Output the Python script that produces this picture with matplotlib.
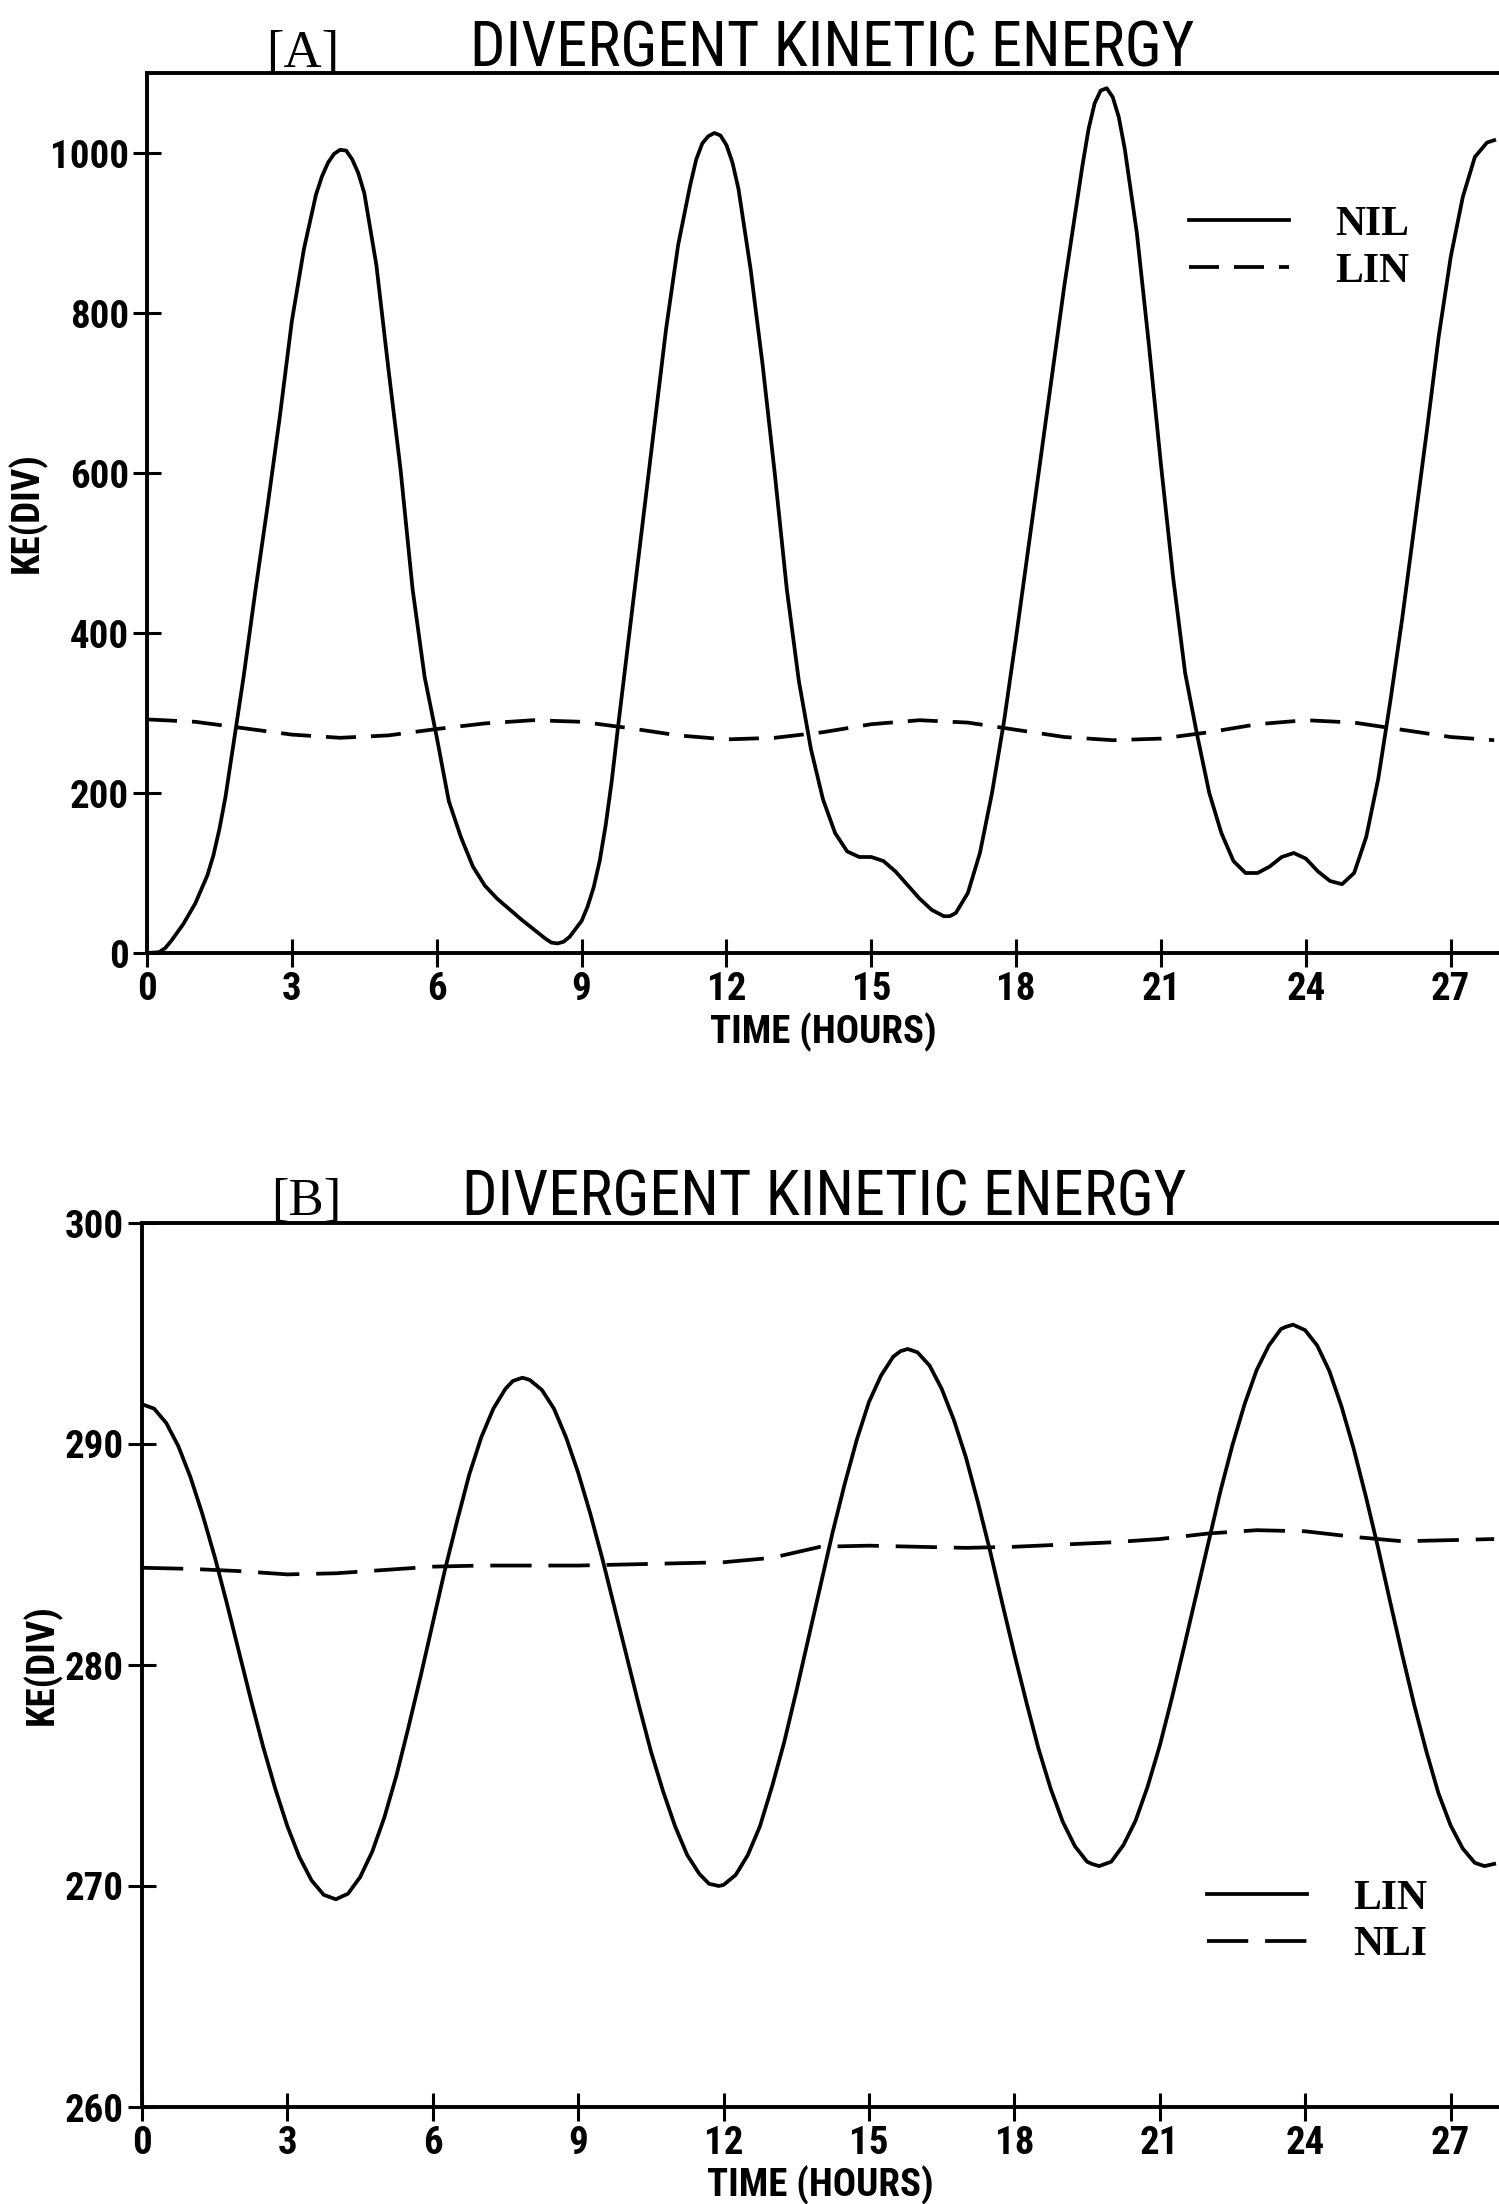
import matplotlib
matplotlib.use("Agg")
import matplotlib.pyplot as plt
from matplotlib import font_manager

# ---- panel A: divergent KE, nonlinear (NIL) vs linear (LIN) ----
A_NIL_T = [0.0, 0.25, 0.375, 0.5, 0.75, 1.0, 1.25, 1.375, 1.5, 1.625, 1.75, 2.0, 2.25, 2.5, 2.75, 3.0,
           3.25, 3.5, 3.625, 3.75, 3.875, 4.0, 4.125, 4.25, 4.375, 4.5, 4.75, 5.0, 5.25, 5.5, 5.75, 6.0,
           6.25, 6.5, 6.75, 7.0, 7.25, 7.5, 7.75, 8.0, 8.25, 8.375, 8.5, 8.625, 8.75, 9.0, 9.125, 9.25,
           9.375, 9.5, 9.625, 9.75, 10.0, 10.25, 10.5, 10.75, 11.0, 11.25, 11.375, 11.5, 11.625, 11.75,
           11.875, 12.0, 12.125, 12.25, 12.5, 12.75, 13.0, 13.25, 13.5, 13.75, 14.0, 14.25, 14.5, 14.75,
           15.0, 15.25, 15.5, 15.75, 16.0, 16.25, 16.5, 16.625, 16.75, 17.0, 17.25, 17.5, 17.75, 18.0,
           18.25, 18.5, 18.75, 19.0, 19.25, 19.375, 19.5, 19.625, 19.75, 19.875, 20.0, 20.125, 20.25,
           20.5, 20.75, 21.0, 21.25, 21.5, 21.75, 22.0, 22.25, 22.5, 22.75, 23.0, 23.25, 23.5, 23.75,
           24.0, 24.25, 24.5, 24.75, 25.0, 25.25, 25.5, 25.75, 26.0, 26.25, 26.5, 26.75, 27.0, 27.25,
           27.5, 27.75, 27.9]
A_NIL = [0, 1, 6, 15, 36, 62, 97, 122, 155, 195, 245, 345, 455, 560, 670, 790,
         880, 948, 971, 988, 999, 1004, 1003, 992, 975, 950, 860, 730, 605, 455, 345, 270,
         190, 145, 108, 84, 68, 55, 42, 30, 18, 13, 12, 14, 20, 40, 58, 82,
         115, 160, 215, 280, 405, 530, 655, 780, 885, 960, 992, 1012, 1021, 1025,
         1022, 1010, 988, 955, 855, 735, 600, 455, 340, 255, 192, 150, 127, 120,
         120, 115, 102, 85, 68, 54, 46, 46, 50, 75, 125, 200, 290, 395,
         505, 615, 725, 835, 935, 985, 1030, 1062, 1078, 1081, 1070, 1045, 1005,
         900, 760, 610, 470, 350, 272, 200, 150, 115, 100, 100, 108, 120, 125,
         118, 102, 90, 86, 100, 145, 218, 315, 420, 535, 650, 770, 870, 945,
         995, 1013, 1016]
A_LIN_T = [0, 1, 2, 3, 4, 5, 6, 7, 8, 9, 10, 11, 12, 13, 14, 15, 16, 17, 18, 19, 20,
           21, 22, 23, 24, 25, 26, 27, 27.9]
A_LIN = [292, 289, 281, 273, 269, 272, 280, 287, 291, 289, 281, 272, 267, 269, 276, 286, 291,
         288, 279, 270, 266, 268, 276, 286, 291, 288, 279, 270, 266]

# ---- panel B: linear (LIN) vs NLI ----
B_LIN_T = [0.0, 0.25, 0.5, 0.75, 1.0, 1.25, 1.5, 1.75, 2.0, 2.25, 2.5, 2.75, 3.0, 3.25, 3.5, 3.75,
           4.0, 4.25, 4.5, 4.75, 5.0, 5.25, 5.5, 5.75, 6.0, 6.25, 6.5, 6.75, 7.0, 7.25, 7.5, 7.65,
           7.85, 8.0, 8.25, 8.5, 8.75, 9.0, 9.25, 9.5, 9.75, 10.0, 10.25, 10.5, 10.75, 11.0, 11.25,
           11.5, 11.7, 11.9, 12.0, 12.25, 12.5, 12.75, 13.0, 13.25, 13.5, 13.75, 14.0, 14.25, 14.5,
           14.75, 15.0, 15.25, 15.5, 15.65, 15.8, 16.0, 16.25, 16.5, 16.75, 17.0, 17.25, 17.5, 17.75,
           18.0, 18.25, 18.5, 18.75, 19.0, 19.25, 19.5, 19.6, 19.75, 20.0, 20.25, 20.5, 20.75, 21.0,
           21.25, 21.5, 21.75, 22.0, 22.25, 22.5, 22.75, 23.0, 23.25, 23.5, 23.6, 23.75, 24.0, 24.25,
           24.5, 24.75, 25.0, 25.25, 25.5, 25.75, 26.0, 26.25, 26.5, 26.75, 27.0, 27.25, 27.5, 27.7,
           27.9]
B_LIN = [291.8, 291.6, 290.95, 289.9, 288.5, 286.8, 284.9, 282.8, 280.6, 278.4, 276.3, 274.4,
         272.7, 271.3, 270.25, 269.6, 269.4, 269.65, 270.4, 271.55, 273.1, 275.0, 277.2, 279.5,
         281.9, 284.3, 286.5, 288.6, 290.3, 291.6, 292.5, 292.85, 293.0, 292.9, 292.45, 291.6,
         290.3, 288.7, 286.85, 284.8, 282.6, 280.4, 278.2, 276.1, 274.3, 272.7, 271.4, 270.55,
         270.1, 270.0, 270.05, 270.5, 271.4, 272.7, 274.5, 276.5, 278.8, 281.2, 283.6, 286.0,
         288.2, 290.2, 291.9, 293.1, 293.95, 294.2, 294.3, 294.15, 293.55, 292.5, 291.1, 289.4,
         287.35, 285.15, 282.8, 280.5, 278.3, 276.2, 274.4, 272.9, 271.8, 271.1, 271.0, 270.9,
         271.1, 271.85, 272.95, 274.5, 276.35, 278.5, 280.8, 283.15, 285.5, 287.85, 289.95, 291.8,
         293.35, 294.45, 295.2, 295.3, 295.4, 295.15, 294.45, 293.3, 291.7, 289.8, 287.65, 285.35,
         282.9, 280.5, 278.2, 276.1, 274.2, 272.75, 271.7, 271.05, 270.9, 271.0]
B_NLI_T = [0, 1, 2, 3, 4, 5, 6, 7, 8, 9, 10, 11, 12, 13, 13.5, 14, 15, 16, 17, 18, 19, 20,
           21, 22, 23, 24, 25, 26, 27, 27.9]
B_NLI = [284.4, 284.35, 284.25, 284.1, 284.15, 284.3, 284.45, 284.5, 284.5, 284.5, 284.55, 284.6,
         284.65, 284.85, 285.1, 285.35, 285.4, 285.35, 285.3, 285.35, 285.45, 285.55, 285.7, 285.95,
         286.1, 286.05, 285.8, 285.6, 285.65, 285.7]

X_TICKS = [0, 3, 6, 9, 12, 15, 18, 21, 24, 27]
A_YTICKS = [0, 200, 400, 600, 800, 1000]
B_YTICKS = [260, 270, 280, 290, 300]


def pick(*names):
    have = {f.name for f in font_manager.fontManager.ttflist}
    for n in names:
        if n in have:
            return n
    return "DejaVu Sans"


SANS = pick("Liberation Sans Narrow", "Roboto Condensed", "Open Sans", "DejaVu Sans")
SERIF = pick("Liberation Serif", "DejaVu Serif")
LW = 2.7


def style(ax, yticks, ylim):
    ax.set_xlim(0, 28)
    ax.set_ylim(*ylim)
    ax.set_xticks(X_TICKS)
    ax.set_yticks(yticks)
    ax.spines["right"].set_visible(False)
    for s in ("left", "top", "bottom"):
        ax.spines[s].set_linewidth(2.8)
    ax.tick_params(direction="inout", length=20, width=2.2, pad=3, labelsize=28, top=False, right=False)
    for lab in ax.get_xticklabels() + ax.get_yticklabels():
        lab.set_family(SANS)
        lab.set_fontweight("bold")
    ax.set_xlabel("TIME (HOURS)", family=SANS, fontweight="bold", fontsize=28)
    ax.set_ylabel("KE(DIV)", family=SANS, fontweight="bold", fontsize=28)


def legend(ax, y):
    ax.legend(loc="upper left", bbox_to_anchor=y, frameon=False,
              borderpad=0, borderaxespad=0, handlelength=2.4, handletextpad=1.1,
              labelspacing=0.2, prop={"family": SERIF, "weight": "bold", "size": 30})


fig = plt.figure(figsize=(14.99, 22.04), dpi=100)

# top panel
axA = fig.add_axes([147 / 1499, 1 - 953 / 2204, 1 - 147 / 1499, 880 / 2204])
axA.plot(A_NIL_T, A_NIL, color="black", lw=LW, label="NIL", solid_joinstyle="round")
axA.plot(A_LIN_T, A_LIN, color="black", lw=LW, dashes=(8, 4), label="LIN")
style(axA, A_YTICKS, (0, 1100))
axA.xaxis.set_label_coords(0.5, -0.068)
axA.yaxis.set_label_coords(-0.074, 0.5)
axA.text(0.115, 1.007, "[A]", transform=axA.transAxes, ha="center", va="baseline",
         family=SERIF, fontsize=38)
axA.text(0.239, 1.007, "DIVERGENT KINETIC ENERGY", transform=axA.transAxes, ha="left",
         va="baseline", family=SANS, fontsize=45)
legend(axA, (0.771, 0.849))

# bottom panel
axB = fig.add_axes([142 / 1499, 1 - 2107 / 2204, 1 - 142 / 1499, 884 / 2204])
axB.plot(B_LIN_T, B_LIN, color="black", lw=LW, label="LIN", solid_joinstyle="round")
axB.plot(B_NLI_T, B_NLI, color="black", lw=LW, dashes=(11, 4.5), label="NLI")
style(axB, B_YTICKS, (260, 300))
axB.xaxis.set_label_coords(0.5, -0.066)
axB.yaxis.set_label_coords(-0.059, 0.5)
axB.text(0.121, 1.009, "[B]", transform=axB.transAxes, ha="center", va="baseline",
         family=SERIF, fontsize=38)
axB.text(0.236, 1.009, "DIVERGENT KINETIC ENERGY", transform=axB.transAxes, ha="left",
         va="baseline", family=SANS, fontsize=45)
legend(axB, (0.785, 0.257))

fig.savefig("out.png", dpi=100)
